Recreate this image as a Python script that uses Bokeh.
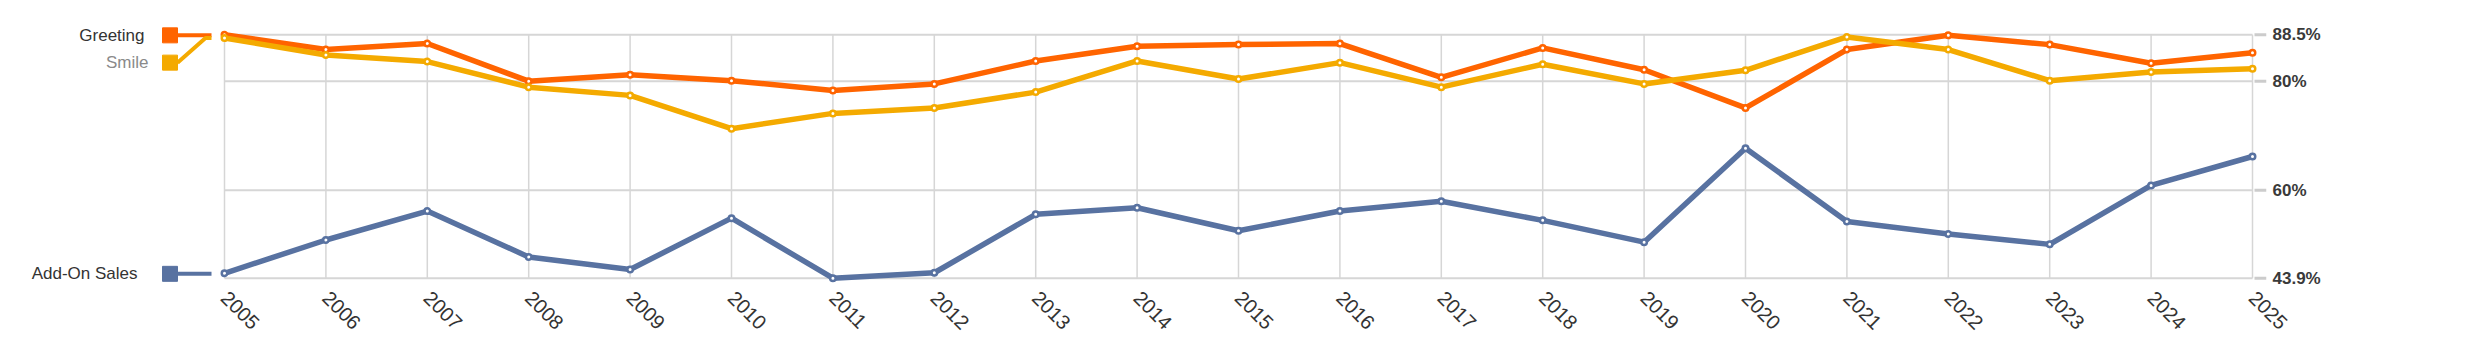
import math
from bokeh.plotting import figure
from bokeh.models import Range1d, FixedTicker, CustomJSTickFormatter
from bokeh.core.properties import value
from bokeh.embed import file_html
from bokeh.resources import INLINE

# ---------------- data ----------------
years = list(range(2005, 2026))
greeting = [88.5, 85.8, 86.9, 80.0, 81.2, 80.1, 78.3, 79.5, 83.7, 86.4, 86.7,
            86.9, 80.7, 86.1, 82.1, 75.1, 85.8, 88.4, 86.7, 83.3, 85.2]
smile = [87.9, 84.8, 83.6, 78.9, 77.4, 71.3, 74.1, 75.1, 78.0, 83.7, 80.4,
         83.4, 78.9, 83.1, 79.5, 82.0, 88.1, 85.8, 80.1, 81.7, 82.3]
addon = [44.8, 50.9, 56.2, 47.8, 45.5, 54.9, 43.9, 44.9, 55.6, 56.8, 52.6,
         56.2, 58.0, 54.5, 50.5, 67.7, 54.3, 52.0, 50.1, 60.9, 66.2]
series_names = ["Greeting", "Smile", "Add-On Sales"]
series_values = [greeting, smile, addon]
y_ticks = [43.9, 60, 80, 88.5]
legend_y = [88.4, 83.4, 44.7]

# ---------------- styles ----------------
colors = ["#FF6400", "#F4AA00", "#5872A1"]
label_colors = ["#333333", "#8a8a8a", "#333333"]
FONT = "Liberation Sans"
GRID = "#d6d6d6"

W, H = 2456, 340
MB_L, MB_R, MB_T, MB_B = 8, 190, 18, 56
frame_w = W - MB_L - MB_R
frame_h = H - MB_T - MB_B
pad_l, pad_r = 216, 14
pad_t, pad_b = 16.3, 6.3
ymin, ymax = min(y_ticks), max(y_ticks)
PX_X = (frame_w - pad_l - pad_r) / (years[-1] - years[0])
PX_Y = (frame_h - pad_t - pad_b) / (ymax - ymin)
x0 = years[0] - pad_l / PX_X
x1 = years[-1] + pad_r / PX_X
y0 = ymin - pad_b / PX_Y
y1 = ymax + pad_t / PX_Y

p = figure(width=W, height=H, x_range=Range1d(x0, x1), y_range=Range1d(y0, y1),
           output_backend="svg", toolbar_location=None, y_axis_location="right",
           min_border_left=MB_L, min_border_right=MB_R, min_border_top=MB_T,
           min_border_bottom=MB_B)
p.outline_line_color = None
p.xgrid.visible = False
p.ygrid.visible = False
p.background_fill_color = "white"
p.border_fill_color = "white"

# grid lines (drawn as segments restricted to the data area)
p.segment(x0=[years[0]] * len(y_ticks), x1=[years[-1]] * len(y_ticks),
          y0=y_ticks, y1=y_ticks, line_color=GRID, line_width=2)
p.segment(x0=[years[-1] + 2 / PX_X] * len(y_ticks), x1=[x1] * len(y_ticks),
          y0=y_ticks, y1=y_ticks, line_color="#cccccc", line_width=3)
p.segment(x0=years, x1=years, y0=[ymin] * len(years), y1=[ymax] * len(years),
          line_color=GRID, line_width=1.5)

# series
for vals, c in zip(series_values, colors):
    p.line(years, vals, line_color=c, line_width=5.5, line_join="round")
for vals, c in zip(series_values, colors):
    p.scatter(years, vals, size=5.5, fill_color="white", line_color=c, line_width=2.5)

# legend / series labels at left
sq_cx = years[0] - 54.5 / PX_X
sq_r = years[0] - 47 / PX_X
con_end = years[0] - 13 / PX_X
elbow = years[0] - 19 / PX_X
text_gap_px = [18, 14, 25]
sq_left_px = 62
for i, (name, ly, c, lc) in enumerate(zip(series_names, legend_y, colors, label_colors)):
    first = series_values[i][0]
    if abs(first - ly) * PX_Y > 6:
        p.line([sq_r, elbow, con_end], [ly, first, first], line_color=c, line_width=4)
    else:
        p.line([sq_r, con_end], [ly, ly], line_color=c, line_width=4)
    p.scatter([sq_cx], [ly], marker="square", size=15, fill_color=c, line_color=c)
    tx = years[0] - (sq_left_px + text_gap_px[i]) / PX_X
    p.text([tx], [ly], text=[name], text_align="right", text_baseline="middle",
           text_font=value(FONT), text_font_size="17px", text_color=lc)

# axes
ya = p.yaxis[0]
ya.ticker = FixedTicker(ticks=y_ticks)
ya.formatter = CustomJSTickFormatter(code="return tick + '%';")
ya.axis_line_color = None
ya.major_tick_line_color = None
ya.minor_tick_line_color = None
ya.major_tick_out = 0
ya.major_tick_in = 0
ya.major_label_standoff = 6
ya.major_label_text_font = FONT
ya.major_label_text_font_size = "17px"
ya.major_label_text_font_style = "bold"
ya.major_label_text_color = "#3a3a3a"

xa = p.xaxis[0]
xa.ticker = FixedTicker(ticks=years)
xa.axis_line_color = None
xa.major_tick_line_color = None
xa.minor_tick_line_color = None
xa.major_tick_out = 0
xa.major_tick_in = 0
xa.major_label_standoff = 10
xa.major_label_orientation = -math.pi / 4
xa.major_label_text_font = FONT
xa.major_label_text_font_size = "20px"
xa.major_label_text_color = "#333333"

open("out.html", "w").write(file_html(p, INLINE))
